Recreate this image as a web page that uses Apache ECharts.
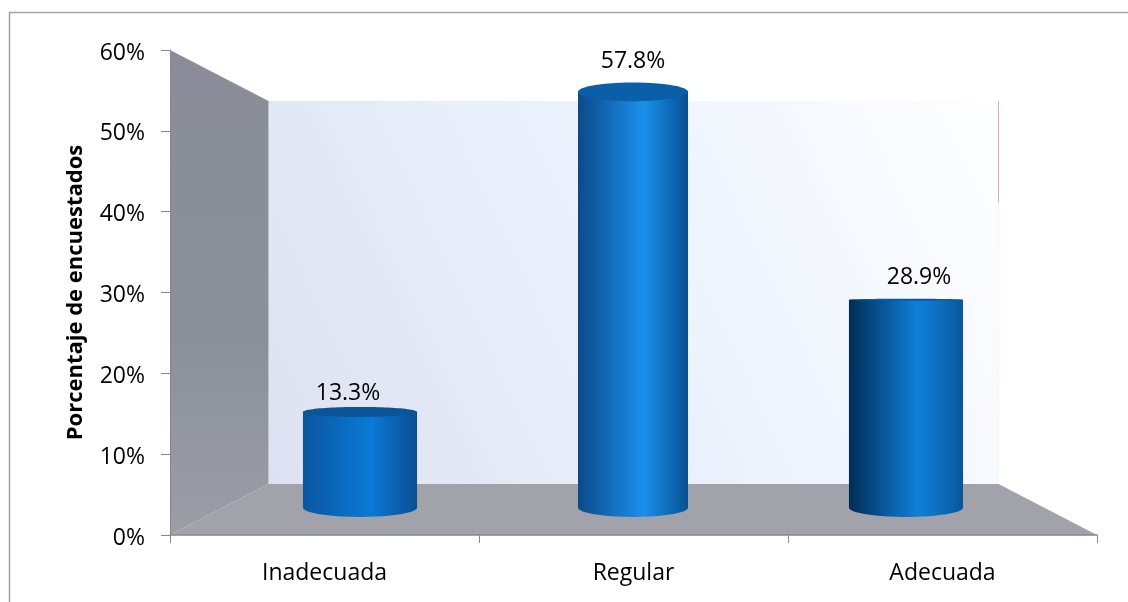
<!DOCTYPE html>
<html>
<head>
<meta charset="utf-8">
<style>html,body{margin:0;padding:0;background:#fff}#c{width:1128px;height:602px}</style>
<script src="https://cdn.jsdelivr.net/npm/echarts@6/dist/echarts.min.js"></script>
</head>
<body>
<div id="c"></div>
<script>
const categories = ['Inadecuada', 'Regular', 'Adecuada'];
const values = [13.3, 57.8, 28.9];
const axisName = 'Porcentaje de encuestados';
const FONT = '"Open Sans", sans-serif';

// Styling / layout of the 3D look
const labelShift = [[-12, -18], [0, -30], [13, -22]];
const barShades = [
  ['#0a56a0', '#0a7ad6', '#0a5aa6', '#0a4f92'],
  ['#0b4a8a', '#1c90ea', '#0a64b0', '#0a4f8e'],
  ['#012c58', '#0f80d8', '#0a66b2', '#0a5596']
];
const capColor = ['#0b5596', '#0b5ea8', '#0a5a9c'];
const eyeLevel = 300, ellipseK = 0.045, depthX = 98.5, depthY = 51;

const chart = echarts.init(document.getElementById('c'), null, {renderer: 'canvas'});

function wallsItem(params) {
  const c = params.coordSys;
  const fl = c.x, fr = c.x + c.width, ft = c.y, fb = c.y + c.height;
  const bl = fl + depthX, br = fr - depthX, bt = ft + depthY, bb = fb - depthY;
  const split = bt + (bb - bt) * 0.265;
  return {
    type: 'group',
    children: [
      {type: 'polygon', shape: {points: [[bl, bt], [br, bt], [br, bb], [bl, bb]]},
        style: {fill: new echarts.graphic.LinearGradient(0, 1, 1, 0.1, [
          {offset: 0, color: '#dde1f1'}, {offset: 0.5, color: '#ebf1fc'}, {offset: 1, color: '#fdfeff'}])}},
      {type: 'polygon', shape: {points: [[fl, ft], [bl, bt], [bl, bb], [fl, fb]]},
        style: {fill: new echarts.graphic.LinearGradient(0, 0, 0, 1, [
          {offset: 0, color: '#8a8d99'}, {offset: 0.6, color: '#8b9098'}, {offset: 1, color: '#9c9ea6'}])}},
      {type: 'polygon', shape: {points: [[bl, bb], [br, bb], [fr, fb], [fl, fb]]},
        style: {fill: '#a2a3aa'}},
      {type: 'line', shape: {x1: br, y1: bt, x2: br, y2: split},
        style: {stroke: '#e6a9b2', lineWidth: 1}},
      {type: 'line', shape: {x1: br, y1: split, x2: br, y2: bb},
        style: {stroke: '#f7f7df', lineWidth: 1}}
    ]
  };
}

function barItem(params, api) {
  const i = api.value(0), v = api.value(1);
  const top = api.coord([i, v]), base = api.coord([i, 0]);
  const cx = top[0];
  const band = api.size([1, 0])[0];
  const w = band * (0.403 + 0.015 * Math.abs(cx - params.coordSys.x - params.coordSys.width / 2) / band);
  const rx = w / 2;
  const ryT = Math.max(1, Math.abs(top[1] - eyeLevel) * ellipseK);
  const ryB = Math.abs(base[1] - eyeLevel) * ellipseK;
  const capPts = [];
  const N = 48;
  const body = [];
  body.push([cx - rx, top[1]]);
  for (let k = 0; k <= N; k++) {
    const a = Math.PI * k / N;
    body.push([cx - rx * Math.cos(a), base[1] + ryB * Math.sin(a)]);
  }
  body.push([cx + rx, top[1]]);
  for (let k = 0; k < N * 2; k++) {
    const a = 2 * Math.PI * k / (N * 2);
    capPts.push([cx + rx * Math.cos(a), top[1] + ryT * Math.sin(a)]);
  }
  const s = barShades[i];
  return {
    type: 'group',
    children: [
      {type: 'polygon', shape: {points: body},
        style: {fill: new echarts.graphic.LinearGradient(0, 0, 1, 0, [
          {offset: 0, color: s[0]}, {offset: 0.6, color: s[1]},
          {offset: 0.88, color: s[2]}, {offset: 1, color: s[3]}])}},
      {type: 'polygon', shape: {points: capPts}, style: {fill: capColor[i]}},
      {type: 'text', style: {
        text: v.toFixed(1) + '%', x: cx + labelShift[i][0], y: top[1] + labelShift[i][1],
        fill: '#000', font: '23px ' + FONT, textAlign: 'center', textVerticalAlign: 'middle'}}
    ]
  };
}

chart.setOption({
  animation: false,
  backgroundColor: '#fff',
  graphic: [{type: 'polyline', silent: true,
    shape: {points: [[9.5, 602], [9.5, 12.5], [1128, 12.5]]},
    style: {stroke: '#a3a3a3', lineWidth: 1.5, fill: null}}],
  grid: [
    {left: 170, right: 31, top: 50, bottom: 67},
    {left: 223.5, width: 819, top: 76, height: 431.6}
  ],
  xAxis: [
    {type: 'category', gridIndex: 0, data: categories, z: 5,
      axisLine: {lineStyle: {color: '#868686', width: 1.5}},
      axisTick: {show: true, alignWithLabel: false, length: 8, lineStyle: {color: '#868686'}},
      axisLabel: {color: '#000', fontFamily: FONT, fontSize: 23, margin: 27}},
    {type: 'category', gridIndex: 1, data: categories, show: false}
  ],
  yAxis: [
    {type: 'value', gridIndex: 0, min: 0, max: 60, interval: 10, z: 5,
      name: axisName, nameLocation: 'middle', nameGap: 83, nameRotate: 90,
      nameTextStyle: {color: '#000', fontFamily: FONT, fontSize: 22, fontWeight: 'bold'},
      axisLine: {show: true, lineStyle: {color: '#868686'}},
      axisTick: {show: true, length: 9, lineStyle: {color: '#868686'}},
      splitLine: {show: false},
      axisLabel: {color: '#000', fontFamily: FONT, fontSize: 23, margin: 25, formatter: '{s|{value}%}',
        rich: {s: {fontFamily: FONT, fontSize: 23, color: '#000', padding: [6, 0, 0, 0]}}}},
    {type: 'value', gridIndex: 1, min: 0, max: 60, interval: 10, show: false, splitLine: {show: false}}
  ],
  series: [
    {type: 'custom', xAxisIndex: 0, yAxisIndex: 0, z: 1, silent: true, clip: false,
      renderItem: wallsItem, data: [[0, 0]]},
    {type: 'custom', xAxisIndex: 1, yAxisIndex: 1, z: 3, silent: true, clip: false,
      renderItem: barItem, encode: {x: 0, y: 1},
      data: values.map((v, i) => [i, v])}
  ]
});
</script>
</body>
</html>
